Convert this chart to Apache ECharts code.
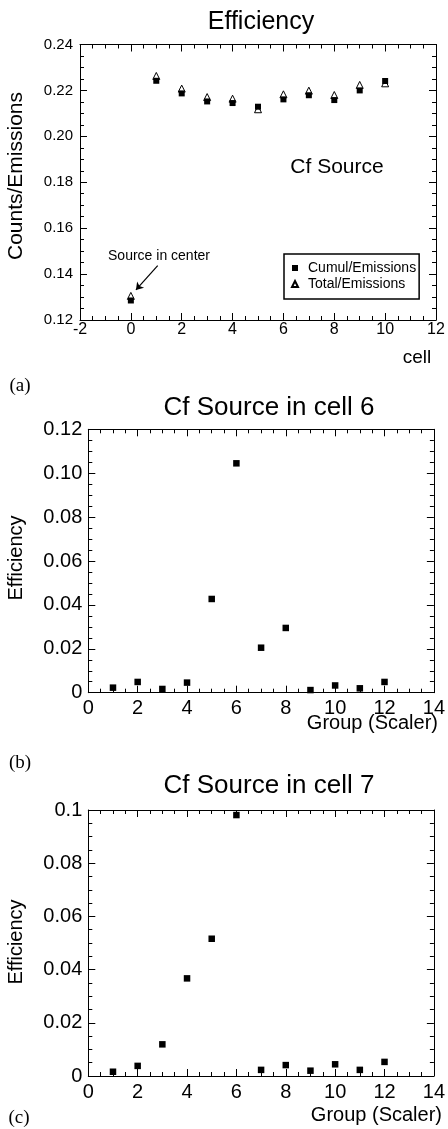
<!DOCTYPE html>
<html>
<head>
<meta charset="utf-8">
<script src="https://cdn.jsdelivr.net/npm/echarts@6/dist/echarts.min.js"></script>
<style>html,body{margin:0;padding:0;background:#fff}#c{width:448px;height:1129px}</style>
</head>
<body>
<div id="c"></div>
<script>
// Panel (a): efficiency vs cell
var cellsA = [0, 1, 2, 3, 4, 5, 6, 7, 8, 9, 10];
var cumulEmissions = [0.1285, 0.2242, 0.2187, 0.2152, 0.2145, 0.2129, 0.2161, 0.2179, 0.2158, 0.2200, 0.2241];
var totalEmissions = [0.1305, 0.2263, 0.2208, 0.2171, 0.2164, 0.2118, 0.2183, 0.2199, 0.2180, 0.2224, 0.2231];
// Panel (b): source in cell 6
var groups = [1, 2, 3, 4, 5, 6, 7, 8, 9, 10, 11, 12];
var effCell6 = [0.0023, 0.0049, 0.0017, 0.0046, 0.0427, 0.1045, 0.0205, 0.0295, 0.0012, 0.0033, 0.0020, 0.0049];
// Panel (c): source in cell 7
var effCell7 = [0.0016, 0.0038, 0.0119, 0.0367, 0.0516, 0.0981, 0.0023, 0.0041, 0.0020, 0.0044, 0.0023, 0.0053];
// Tick settings
var xTicksA = {min: -2, max: 12, interval: 2};
var yTicksA = {min: 0.12, max: 0.24, interval: 0.02};
var xTicksBC = {min: 0, max: 14, interval: 2};
var yTicksB = {min: 0, max: 0.12, interval: 0.02};
var yTicksC = {min: 0, max: 0.1, interval: 0.02};

var FONT = 'Liberation Sans, Arial, Helvetica, sans-serif';
function zip(xs, ys){ return xs.map(function(x,i){ return [x, ys[i]]; }); }

function axis(grid, ticks, pos, showLabel, fontSize, margin, fmt){
  return {
    type: 'value', gridIndex: grid, position: pos,
    min: ticks.min, max: ticks.max, interval: ticks.interval,
    axisLine: {show: true, onZero: false, lineStyle: {color: '#000', width: 1}},
    axisTick: {show: true, inside: true, length: 7, lineStyle: {color: '#000', width: 1}},
    minorTick: {show: true, splitNumber: 4, length: 4, lineStyle: {color: '#000', width: 1}},
    splitLine: {show: false},
    axisLabel: {show: showLabel, color: '#000', fontFamily: FONT, fontSize: fontSize, margin: margin,
      formatter: fmt, showMinLabel: true, showMaxLabel: true}
  };
}
function fmtInt(v){ return String(v); }
function fmt2(v){ return v.toFixed(2); }
function fmtB(v){ return v === 0 ? '0' : v.toFixed(2); }
function fmtC(v){ return v === 0 ? '0' : String(+v.toFixed(4)); }

var chart = echarts.init(document.getElementById('c'), null, {renderer: 'canvas'});

function txt(text, x, y, size, opts){
  opts = opts || {};
  return {
    type: 'text', x: x, y: y, rotation: opts.rot || 0, silent: true,
    style: {text: text, fill: '#000', font: size + 'px ' + (opts.family || FONT),
      align: opts.align || 'center', verticalAlign: 'middle',
      textAlign: opts.align || 'center', textVerticalAlign: 'middle'}
  };
}

chart.setOption({
  animation: false,
  backgroundColor: '#fff',
  grid: [
    {left: 80, top: 44.5, width: 356, height: 275.5, containLabel: false},
    {left: 88.3, top: 429.3, width: 348.7, height: 263.4, containLabel: false},
    {left: 88.3, top: 810, width: 349, height: 266, containLabel: false}
  ],
  xAxis: [
    axis(0, xTicksA, 'bottom', true, 16, 2, fmtInt),
    axis(0, xTicksA, 'top', false, 16, 2, fmtInt),
    axis(1, xTicksBC, 'bottom', true, 20, 6, fmtInt),
    axis(1, xTicksBC, 'top', false, 20, 6, fmtInt),
    axis(2, xTicksBC, 'bottom', true, 20, 6, fmtInt),
    axis(2, xTicksBC, 'top', false, 20, 6, fmtInt)
  ],
  yAxis: [
    axis(0, yTicksA, 'left', true, 15, 7, fmt2),
    axis(0, yTicksA, 'right', false, 15, 7, fmt2),
    axis(1, yTicksB, 'left', true, 20, 6, fmtB),
    axis(1, yTicksB, 'right', false, 20, 6, fmtB),
    axis(2, yTicksC, 'left', true, 20, 6, fmtC),
    axis(2, yTicksC, 'right', false, 20, 6, fmtC)
  ],
  legend: {
    data: ['Cumul/Emissions', 'Total/Emissions'],
    orient: 'vertical', left: 284, top: 254,
    selectedMode: false,
    backgroundColor: '#fff',
    borderColor: '#000', borderWidth: 1.5, borderRadius: 0,
    padding: [6, 3, 7, 7], itemGap: 0,
    itemWidth: 6, itemHeight: 6, symbolKeepAspect: true,
    textStyle: {color: '#000', fontFamily: FONT, fontSize: 14, lineHeight: 16, padding: [0, 0, 0, 5]}
  },
  series: [
    {
      name: 'Total/Emissions', type: 'scatter', xAxisIndex: 0, yAxisIndex: 0,
      data: zip(cellsA, totalEmissions), symbol: 'triangle', symbolSize: 7,
      itemStyle: {color: '#fff', borderColor: '#000', borderWidth: 1, opacity: 1},
      z: 2,
      markLine: {
        silent: true, animation: false,
        lineStyle: {color: '#000', width: 1.2, type: 'solid'},
        label: {show: false},
        symbolSize: 7,
        data: [[
          {coord: [1.055, 0.1437], symbol: 'none'},
          {coord: [0.2, 0.1331], symbol: 'arrow'}
        ]]
      }
    },
    {
      name: 'Cumul/Emissions', type: 'scatter', xAxisIndex: 0, yAxisIndex: 0,
      data: zip(cellsA, cumulEmissions), symbol: 'rect', symbolSize: 6,
      itemStyle: {color: '#000', opacity: 1}, z: 3
    },
    {
      name: 'cell6', type: 'scatter', xAxisIndex: 2, yAxisIndex: 2,
      data: zip(groups, effCell6), symbol: 'rect', symbolSize: 6.5,
      itemStyle: {color: '#000', opacity: 1}
    },
    {
      name: 'cell7', type: 'scatter', xAxisIndex: 4, yAxisIndex: 4,
      data: zip(groups, effCell7), symbol: 'rect', symbolSize: 6.5,
      itemStyle: {color: '#000', opacity: 1}
    }
  ],
  graphic: [
    txt('Efficiency', 261, 22, 25),
    txt('Counts/Emissions', 16.5, 176, 21, {rot: Math.PI / 2}),
    txt('Cf Source', 337, 167, 21),
    txt('Source in center', 159, 256, 14),
    txt('cell', 417, 358, 19),
    txt('(a)', 20, 386, 19, {family: 'Liberation Serif, Times New Roman, serif'}),
    txt('Cf Source in cell 6', 269, 408, 26),
    txt('Efficiency', 16.5, 558, 20, {rot: Math.PI / 2}),
    txt('Group (Scaler)', 438, 723, 20, {align: 'right'}),
    txt('(b)', 20, 763, 19, {family: 'Liberation Serif, Times New Roman, serif'}),
    txt('Cf Source in cell 7', 269, 786, 26),
    txt('Efficiency', 16.5, 942, 20, {rot: Math.PI / 2}),
    txt('Group (Scaler)', 442, 1115, 20, {align: 'right'}),
    txt('(c)', 19, 1118, 19, {family: 'Liberation Serif, Times New Roman, serif'})
  ]
});
</script>
</body>
</html>
